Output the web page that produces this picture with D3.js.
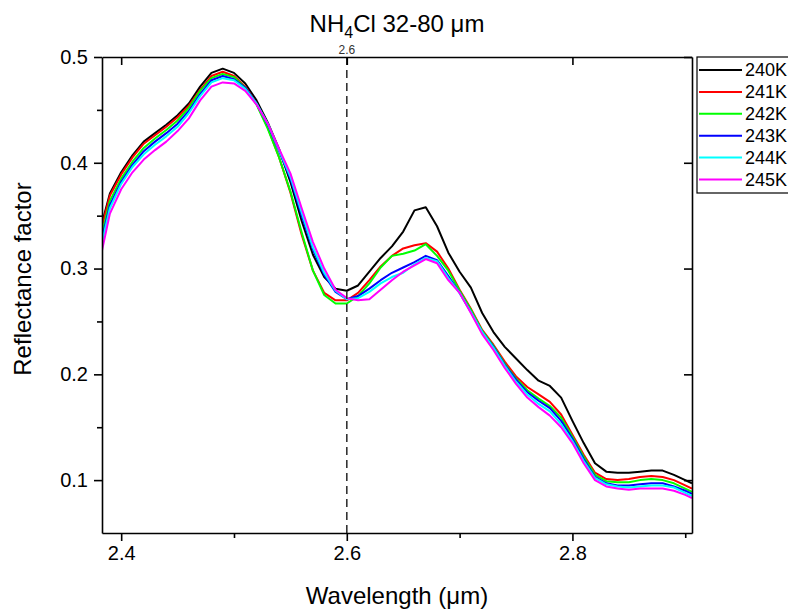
<!DOCTYPE html>
<html><head><meta charset="utf-8">
<script src="https://cdn.jsdelivr.net/npm/d3@7"></script>
<style>body{margin:0;background:#fff;} svg{display:block;font-family:"Liberation Sans",Arial,sans-serif;}</style>
</head><body><svg id="chart" width="788" height="610"></svg>
<script>
const wavelengths = [2.383,2.39,2.40,2.41,2.42,2.43,2.44,2.45,2.46,2.47,2.48,2.49,2.50,2.51,2.52,2.53,2.54,2.55,2.56,2.57,2.58,2.59,2.60,2.61,2.62,2.63,2.64,2.65,2.66,2.67,2.68,2.69,2.70,2.71,2.72,2.73,2.74,2.75,2.76,2.77,2.78,2.79,2.80,2.81,2.82,2.83,2.84,2.85,2.86,2.87,2.88,2.89,2.90,2.906];
const series240K = [0.343,0.371,0.391,0.407,0.420,0.428,0.436,0.445,0.456,0.472,0.485,0.489,0.485,0.475,0.459,0.438,0.413,0.382,0.345,0.313,0.292,0.281,0.279,0.284,0.297,0.310,0.321,0.335,0.355,0.358,0.340,0.315,0.297,0.282,0.258,0.240,0.226,0.215,0.204,0.194,0.189,0.178,0.156,0.135,0.116,0.108,0.107,0.107,0.108,0.109,0.109,0.105,0.100,0.097];
const series241K = [0.340,0.369,0.389,0.405,0.418,0.426,0.434,0.443,0.454,0.469,0.482,0.486,0.482,0.472,0.456,0.433,0.405,0.372,0.332,0.298,0.277,0.270,0.270,0.277,0.289,0.302,0.312,0.319,0.322,0.324,0.316,0.300,0.280,0.262,0.242,0.228,0.212,0.198,0.188,0.181,0.174,0.162,0.143,0.124,0.107,0.101,0.100,0.101,0.103,0.104,0.103,0.100,0.095,0.092];
const series242K = [0.333,0.364,0.385,0.401,0.414,0.423,0.431,0.440,0.452,0.468,0.480,0.484,0.481,0.471,0.455,0.432,0.405,0.373,0.334,0.298,0.275,0.267,0.267,0.274,0.286,0.301,0.312,0.314,0.317,0.323,0.312,0.298,0.279,0.261,0.241,0.227,0.210,0.196,0.185,0.177,0.170,0.159,0.141,0.122,0.105,0.099,0.098,0.098,0.100,0.101,0.100,0.097,0.092,0.089];
const series243K = [0.328,0.360,0.382,0.398,0.411,0.420,0.428,0.437,0.449,0.465,0.478,0.482,0.479,0.471,0.456,0.436,0.411,0.385,0.350,0.318,0.294,0.278,0.271,0.274,0.281,0.289,0.296,0.301,0.306,0.312,0.308,0.293,0.277,0.259,0.240,0.226,0.209,0.195,0.183,0.175,0.168,0.156,0.139,0.120,0.103,0.097,0.095,0.095,0.096,0.097,0.097,0.094,0.090,0.087];
const series244K = [0.325,0.357,0.380,0.396,0.408,0.417,0.425,0.434,0.447,0.463,0.476,0.480,0.478,0.470,0.456,0.437,0.412,0.387,0.353,0.320,0.296,0.279,0.271,0.272,0.278,0.286,0.292,0.296,0.304,0.310,0.307,0.291,0.277,0.259,0.240,0.225,0.208,0.193,0.181,0.172,0.165,0.153,0.137,0.118,0.102,0.096,0.094,0.093,0.094,0.095,0.095,0.093,0.088,0.085];
const series245K = [0.317,0.352,0.375,0.391,0.403,0.412,0.420,0.430,0.442,0.459,0.472,0.476,0.475,0.468,0.455,0.437,0.413,0.390,0.357,0.325,0.300,0.280,0.272,0.270,0.271,0.280,0.289,0.297,0.303,0.309,0.305,0.289,0.277,0.258,0.238,0.223,0.206,0.191,0.178,0.169,0.161,0.150,0.135,0.116,0.100,0.094,0.092,0.091,0.092,0.092,0.092,0.090,0.086,0.083];
const seriesNames = ["240K","241K","242K","243K","244K","245K"];
const seriesColors = ["#000000","#ff0000","#00ff00","#0000ff","#00ffff","#ff00ff"];
const xMajorTicks = [2.4,2.6,2.8];
const xMinorTicks = [2.5,2.7,2.9];
const yMajorTicks = [0.1,0.2,0.3,0.4,0.5];
const yMinorTicks = [0.15,0.25,0.35,0.45];
const markerX = 2.6;

const allSeries = [series240K,series241K,series242K,series243K,series244K,series245K];
const svg = d3.select("#chart");
const L = 102, R = 692, T = 57, B = 533;
const x = d3.scaleLinear().domain([2.383, 2.906]).range([L, R]);
const y = d3.scaleLinear().domain([0.05, 0.5]).range([B, T]);

svg.append("defs").append("clipPath").attr("id","clip")
  .append("rect").attr("x",L).attr("y",T).attr("width",R-L).attr("height",B-T);

const line = d3.line().x((d,i)=>x(wavelengths[i])).y(d=>y(d));
const g = svg.append("g").attr("clip-path","url(#clip)");
allSeries.forEach((s,k)=>{
  g.append("path").datum(s).attr("d",line).attr("fill","none")
    .attr("stroke",seriesColors[k]).attr("stroke-width",2).attr("stroke-linejoin","round");
});

svg.append("line").attr("x1",x(markerX)).attr("x2",x(markerX)).attr("y1",T).attr("y2",B)
  .attr("stroke","#333").attr("stroke-width",1.6).attr("stroke-dasharray","8,5");
svg.append("text").attr("x",x(markerX)).attr("y",T-3).attr("text-anchor","middle")
  .attr("font-size",12).attr("fill","#333").text(d3.format(".1f")(markerX));

function styleAxis(sel){
  sel.selectAll("path").attr("stroke","#000").attr("stroke-width",1.6);
  sel.selectAll("line").attr("stroke","#000").attr("stroke-width",1.6);
  sel.selectAll("text").attr("font-size",20).attr("fill","#000").attr("font-family","'Liberation Sans',Arial,sans-serif");
}
const xb = svg.append("g").attr("transform",`translate(0,${B})`)
  .call(d3.axisBottom(x).tickValues(xMajorTicks).tickSize(8).tickSizeOuter(0).tickPadding(5).tickFormat(d3.format(".1f")));
styleAxis(xb);
const xbm = svg.append("g").attr("transform",`translate(0,${B})`)
  .call(d3.axisBottom(x).tickValues(xMinorTicks).tickSize(5).tickSizeOuter(0).tickFormat(""));
styleAxis(xbm); xbm.select("path").remove();
const xt = svg.append("g").attr("transform",`translate(0,${T})`)
  .call(d3.axisTop(x).tickValues(xMajorTicks).tickSize(-8).tickSizeOuter(0).tickFormat(""));
styleAxis(xt);
const yl = svg.append("g").attr("transform",`translate(${L},0)`)
  .call(d3.axisLeft(y).tickValues(yMajorTicks).tickSize(8).tickSizeOuter(0).tickPadding(6).tickFormat(d3.format(".1f")));
styleAxis(yl);
const ylm = svg.append("g").attr("transform",`translate(${L},0)`)
  .call(d3.axisLeft(y).tickValues(yMinorTicks).tickSize(5).tickSizeOuter(0).tickFormat(""));
styleAxis(ylm); ylm.select("path").remove();
const yr = svg.append("g").attr("transform",`translate(${R},0)`)
  .call(d3.axisRight(y).tickValues(yMajorTicks).tickSize(-8).tickSizeOuter(0).tickFormat(""));
styleAxis(yr);

const title = svg.append("text").attr("x",(L+R)/2).attr("y",32).attr("text-anchor","middle")
  .attr("font-size",24).attr("fill","#000");
title.append("tspan").text("NH");
title.append("tspan").attr("font-size",16).attr("dy",6).text("4");
title.append("tspan").attr("dy",-6).text("Cl 32-80 \u03bcm");

svg.append("text").attr("x",(L+R)/2).attr("y",604).attr("text-anchor","middle")
  .attr("font-size",24).attr("fill","#000").text("Wavelength (\u03bcm)");
svg.append("text").attr("transform","translate(31,279) rotate(-90)")
  .attr("text-anchor","middle").attr("font-size",24).attr("fill","#000").text("Reflectance factor");

const lg = svg.append("g");
lg.append("rect").attr("x",697).attr("y",57).attr("width",110).attr("height",136)
  .attr("fill","#fff").attr("stroke","#000").attr("stroke-width",1.2);
seriesNames.forEach((n,k)=>{
  const yy = 70 + k*21.9;
  lg.append("line").attr("x1",699).attr("x2",742).attr("y1",yy).attr("y2",yy)
    .attr("stroke",seriesColors[k]).attr("stroke-width",2);
  lg.append("text").attr("x",745).attr("y",yy).attr("dy","0.36em")
    .attr("font-size",18).attr("fill","#000").text(n);
});
</script></body></html>
